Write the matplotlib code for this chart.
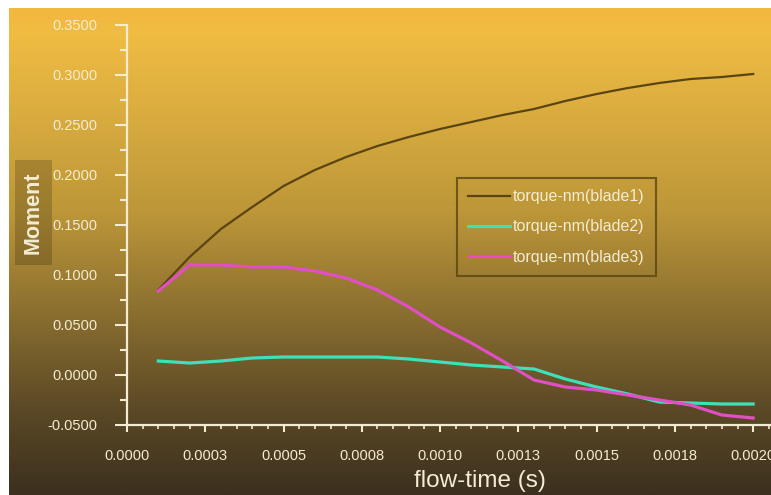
import numpy as np
import matplotlib.pyplot as plt
from matplotlib.colors import LinearSegmentedColormap
from matplotlib.ticker import MultipleLocator, FixedLocator

# flow-time (s)
time = [0.00010, 0.00020, 0.00030, 0.00040, 0.00050, 0.00060, 0.00070,
        0.00080, 0.00090, 0.00100, 0.00110, 0.00120, 0.00130, 0.00140,
        0.00150, 0.00160, 0.00170, 0.00180, 0.00190, 0.00200]

blade1 = [0.085, 0.118, 0.146, 0.168, 0.189, 0.205, 0.218, 0.229, 0.238, 0.246,
          0.253, 0.260, 0.266, 0.274, 0.281, 0.287, 0.292, 0.296, 0.298, 0.301]
blade2 = [0.014, 0.012, 0.014, 0.017, 0.018, 0.018, 0.018, 0.018, 0.016, 0.013,
          0.010, 0.008, 0.006, -0.004, -0.012, -0.019, -0.027, -0.028, -0.029, -0.029]
blade3 = [0.084, 0.110, 0.110, 0.108, 0.108, 0.104, 0.097, 0.085, 0.068, 0.048,
          0.032, 0.014, -0.005, -0.012, -0.015, -0.020, -0.025, -0.030, -0.040, -0.043]

labels = ["torque-nm(blade1)", "torque-nm(blade2)", "torque-nm(blade3)"]
colors = ["#5a4512", "#3fe0b8", "#e04fc4"]

xticks = [0.0, 0.00025, 0.0005, 0.00075, 0.001, 0.00125, 0.0015, 0.00175, 0.002]
xticklabels = ["0.0000", "0.0003", "0.0005", "0.0008", "0.0010",
               "0.0013", "0.0015", "0.0018", "0.0020"]

cream = "#f3ecd2"
plt.rcParams['font.family'] = ['Liberation Sans', 'DejaVu Sans']

W, H = 771, 495
fig = plt.figure(figsize=(W / 100, H / 100), dpi=100)
fig.patch.set_facecolor("white")

# background gradient (white strip top and left)
bg = fig.add_axes([9 / W, 0, 1 - 9 / W, 1 - 8 / H])
bg.set_axis_off()
cmap = LinearSegmentedColormap.from_list("bg", [
    (0.0, "#f5b73e"), (0.05, "#f0bc42"), (0.2, "#dcae40"), (0.42, "#bc9638"),
    (0.62, "#8c7030"), (0.82, "#5c4a26"), (1.0, "#3c301e")])
bg.imshow(np.linspace(0, 1, 256).reshape(-1, 1), aspect="auto", cmap=cmap,
          extent=[0, 1, 0, 1], origin="upper")

# box behind the y label
fig.patches.append(plt.Rectangle((15 / W, 1 - 265 / H), 37 / W, 105 / H,
                                 transform=fig.transFigure, facecolor="black",
                                 alpha=0.18, edgecolor="none", zorder=1))

ax = fig.add_axes([127 / W, 1 - 425 / H, 1 - 127 / W, 400 / H])
ax.set_facecolor("none")
for vals, c, lw, lab in zip([blade1, blade2, blade3], colors, [1.6, 2.3, 2.3], labels):
    ax.plot(time, vals, color=c, lw=lw, label=lab)

ax.set_xlim(0, 0.002057)
ax.set_ylim(-0.05, 0.35)
ax.xaxis.set_major_locator(FixedLocator(xticks))
ax.set_xticklabels(xticklabels)
ax.xaxis.set_minor_locator(MultipleLocator(0.00005))
ax.yaxis.set_major_locator(MultipleLocator(0.05))
ax.yaxis.set_minor_locator(MultipleLocator(0.025))
ax.yaxis.set_major_formatter(lambda v, p: f"{v:.4f}")

for s in ["top", "right"]:
    ax.spines[s].set_visible(False)
for s in ["left", "bottom"]:
    ax.spines[s].set_color(cream)
    ax.spines[s].set_linewidth(1.6)

ax.tick_params(axis="y", which="major", length=9, width=1.5, color=cream,
               labelcolor=cream, labelsize=10.5, pad=12)
ax.tick_params(axis="y", which="minor", length=5, width=1.5, color=cream)
ax.tick_params(axis="x", which="major", length=5, width=1.5, color=cream,
               labelcolor=cream, labelsize=10.5, pad=12)
ax.tick_params(axis="x", which="minor", length=3, width=1.2, color=cream)

fig.text(480 / W, 1 - 481 / H, "flow-time (s)", color=cream, fontsize=17.5,
         ha="center", va="center")
fig.text(33 / W, 1 - 213 / H, "Moment", color=cream, fontsize=15.5,
         fontweight="bold", rotation=90, ha="center", va="center")

leg = ax.legend(loc="upper left", bbox_to_anchor=((457 - 127) / (W - 127), (425 - 178) / 400),
                frameon=True, fontsize=11.5, labelcolor=cream, handlelength=2.6,
                handletextpad=0.2, labelspacing=0.95, borderpad=0.7,
                borderaxespad=0, fancybox=False)
leg.get_frame().set_facecolor("none")
leg.get_frame().set_edgecolor("#5a4512")
leg.get_frame().set_linewidth(1.5)

fig.savefig("out.png", dpi=100)
